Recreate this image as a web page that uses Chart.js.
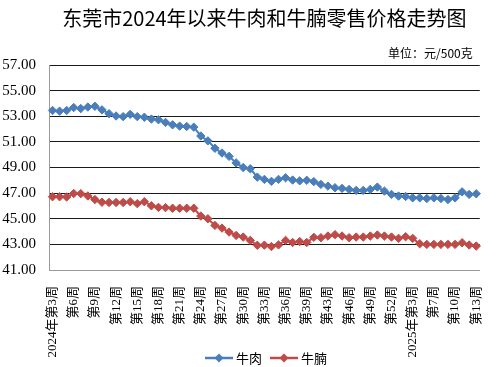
<!DOCTYPE html>
<html>
<head>
<meta charset="utf-8">
<script src="https://cdn.jsdelivr.net/npm/chart.js@4/dist/chart.umd.min.js"></script>
<style>
  html, body { margin: 0; padding: 0; background: #fff; }
  canvas { display: block; }
</style>
</head>
<body>
<canvas id="chart" width="500" height="367"></canvas>
<script>
// weekly retail price, yuan / 500g
const weeks = [
    '2024年第3周', '第4周', '第5周', '第6周', '第7周', '第8周', '第9周', '第10周', '第11周', '第12周',
    '第13周', '第14周', '第15周', '第16周', '第17周', '第18周', '第19周', '第20周', '第21周', '第22周',
    '第23周', '第24周', '第25周', '第26周', '第27周', '第28周', '第29周', '第30周', '第31周', '第32周',
    '第33周', '第34周', '第35周', '第36周', '第37周', '第38周', '第39周', '第41周', '第42周', '第43周',
    '第44周', '第45周', '第46周', '第47周', '第48周', '第49周', '第50周', '第51周', '第52周', '第1周',
    '第2周', '2025年第3周', '第4周', '第6周', '第7周', '第8周', '第9周', '第10周', '第11周', '第12周', '第13周'
];
const beef = [
    53.45, 53.40, 53.45, 53.68, 53.60, 53.72, 53.78, 53.50, 53.20, 53.02,
    52.97, 53.15, 52.97, 52.92, 52.78, 52.73, 52.52, 52.33, 52.23, 52.20,
    52.15, 51.46, 51.08, 50.50, 50.13, 49.87, 49.36, 49.00, 48.90, 48.25,
    48.07, 47.92, 48.07, 48.20, 48.02, 47.96, 48.00, 47.90, 47.68, 47.55,
    47.42, 47.37, 47.29, 47.21, 47.21, 47.29, 47.47, 47.16, 46.90, 46.77,
    46.74, 46.63, 46.63, 46.58, 46.63, 46.58, 46.50, 46.63, 47.10, 46.90, 46.95
];
const brisket = [
    46.72, 46.72, 46.70, 46.97, 46.96, 46.78, 46.50, 46.29, 46.27, 46.27,
    46.27, 46.33, 46.18, 46.33, 46.01, 45.89, 45.87, 45.82, 45.82, 45.82,
    45.82, 45.21, 45.00, 44.48, 44.27, 43.96, 43.70, 43.57, 43.31, 42.93,
    42.94, 42.83, 42.96, 43.31, 43.15, 43.22, 43.15, 43.55, 43.52, 43.65,
    43.76, 43.65, 43.52, 43.57, 43.57, 43.65, 43.73, 43.65, 43.57, 43.47,
    43.60, 43.47, 43.05, 43.00, 43.00, 43.00, 43.00, 43.00, 43.13, 42.95, 42.87
];
const seriesNames = ['牛肉', '牛腩'];
const seriesColors = ['#4A7EBB', '#BE4B48'];
const yTicks = { min: 41, max: 57, step: 2 };
const titleText = '东莞市2024年以来牛肉和牛腩零售价格走势图';
const unitText = '单位：元/500克';

const serif = "'Liberation Serif', 'Noto Sans CJK SC', serif";
const cjk = "'Noto Sans CJK SC', sans-serif";

function drawMarker(ctx, x, y, color) {
    ctx.strokeStyle = color;
    ctx.lineWidth = 2.5;
    ctx.beginPath();
    ctx.moveTo(x - 14, y);
    ctx.lineTo(x + 14, y);
    ctx.stroke();
    ctx.fillStyle = color;
    ctx.beginPath();
    ctx.moveTo(x, y - 4.5);
    ctx.lineTo(x + 4.5, y);
    ctx.lineTo(x, y + 4.5);
    ctx.lineTo(x - 4.5, y);
    ctx.closePath();
    ctx.fill();
}

// unit note above the plot and the legend at the bottom (it sits over the tick label band)
const extras = {
    id: 'extras',
    afterDraw(chart) {
        const { ctx, chartArea } = chart;
        ctx.save();
        ctx.font = '12px ' + cjk;
        ctx.fillStyle = '#000';
        ctx.textAlign = 'right';
        ctx.textBaseline = 'middle';
        ctx.fillText(unitText, chartArea.right - 7, chartArea.top - 12);

        ctx.font = '13px ' + cjk;
        ctx.textAlign = 'left';
        const y = 358;
        let x = 205;
        chart.data.datasets.forEach((ds, i) => {
            drawMarker(ctx, x + 14, y, seriesColors[i]);
            ctx.fillStyle = '#000';
            ctx.fillText(ds.label, x + 31, y);
            x += 31 + ctx.measureText(ds.label).width + 8;
        });
        ctx.restore();
    },
};

function makeDataset(i, values) {
    return {
        label: seriesNames[i],
        data: values,
        borderColor: seriesColors[i],
        backgroundColor: seriesColors[i],
        borderWidth: 2,
        pointStyle: 'rectRot',
        pointRadius: 4.2,
        pointBorderWidth: 1,
        pointBackgroundColor: seriesColors[i],
        pointBorderColor: seriesColors[i],
        tension: 0,
    };
}

const chart = new Chart(document.getElementById('chart'), {
    type: 'line',
    data: {
        labels: weeks,
        datasets: [makeDataset(0, beef), makeDataset(1, brisket)],
    },
    plugins: [extras],
    options: {
        responsive: false,
        animation: false,
        devicePixelRatio: 1,
        layout: { padding: { left: 0, right: 8, top: 0, bottom: 0 } },
        plugins: {
            title: {
                display: true,
                text: titleText,
                fullSize: false,
                color: '#000',
                font: { family: cjk, size: 20, weight: 'normal' },
                padding: { top: 6, bottom: 35 },
            },
            legend: { display: false },
            tooltip: { enabled: false },
        },
        scales: {
            x: {
                offset: true,
                grid: { display: false },
                border: { color: '#9a9a9a', width: 1 },
                ticks: {
                    autoSkip: false,
                    minRotation: 90,
                    maxRotation: 90,
                    padding: 8,
                    color: '#000',
                    font: { family: serif, size: 13 },
                    callback(value, index) {
                        return index % 3 === 0 ? this.getLabelForValue(value) : '';
                    },
                },
                afterFit(scale) {
                    scale.height = 97;
                },
            },
            y: {
                min: yTicks.min,
                max: yTicks.max,
                grid: {
                    drawTicks: false,
                    color: (c) => (c.tick && c.tick.value === yTicks.min ? '#9a9a9a' : '#1a1a1a'),
                    lineWidth: 1,
                },
                border: { color: '#9a9a9a', width: 1 },
                ticks: {
                    stepSize: yTicks.step,
                    padding: 13,
                    color: '#000',
                    font: { family: serif, size: 15 },
                    callback: (v) => v.toFixed(2),
                },
                afterFit(scale) {
                    scale.width = 49;
                },
            },
        },
    },
});
</script>
</body>
</html>
